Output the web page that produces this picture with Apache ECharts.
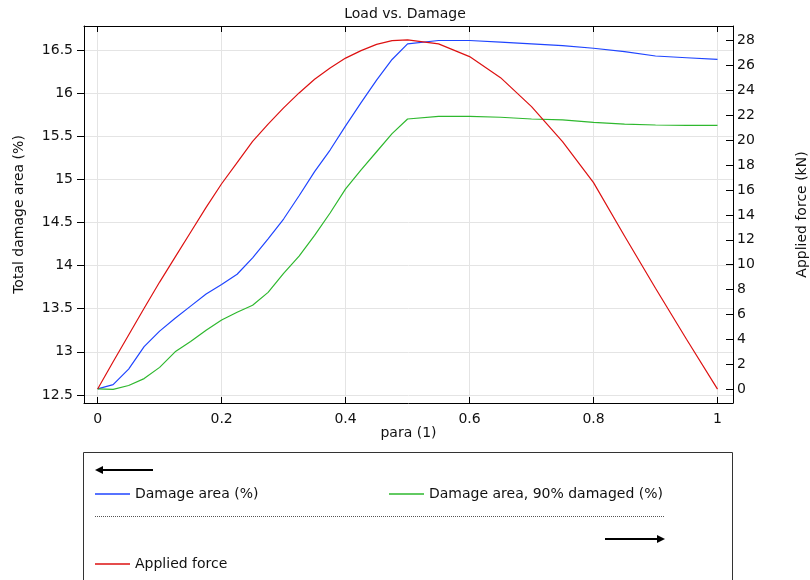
<!DOCTYPE html>
<html>
<head>
  <meta charset="utf-8">
  <script src="https://cdn.jsdelivr.net/npm/echarts@6/dist/echarts.min.js"></script>
  <style>
    body { margin: 0; background: #fff; }
    #chart { width: 810px; height: 580px; }
  </style>
</head>
<body>
  <div id="chart"></div>
  <script>
    // parameter sweep: 0.025 steps up to 0.5, then 0.05 steps
    var para = [0, 0.025, 0.05, 0.075, 0.1, 0.125, 0.15, 0.175, 0.2, 0.225, 0.25,
      0.275, 0.3, 0.325, 0.35, 0.375, 0.4, 0.425, 0.45, 0.475, 0.5,
      0.55, 0.6, 0.65, 0.7, 0.75, 0.8, 0.85, 0.9, 0.95, 1];
    var damageArea = [12.57, 12.62, 12.80, 13.06, 13.24, 13.39, 13.53, 13.67, 13.78, 13.90, 14.09,
      14.31, 14.54, 14.81, 15.09, 15.34, 15.62, 15.89, 16.15, 16.39, 16.57,
      16.61, 16.61, 16.59, 16.57, 16.55, 16.52, 16.48, 16.43, 16.41, 16.39];
    var damageArea90 = [12.57, 12.565, 12.61, 12.69, 12.82, 13.00, 13.12, 13.25, 13.37, 13.46, 13.54,
      13.69, 13.91, 14.11, 14.35, 14.61, 14.89, 15.11, 15.32, 15.53, 15.70,
      15.73, 15.73, 15.72, 15.70, 15.69, 15.66, 15.64, 15.63, 15.625, 15.625];
    var appliedForce = [0, 2.2, 4.35, 6.5, 8.6, 10.6, 12.6, 14.6, 16.5, 18.2, 19.9,
      21.3, 22.6, 23.8, 24.9, 25.8, 26.6, 27.2, 27.7, 28.0, 28.06,
      27.74, 26.72, 25.03, 22.7, 19.89, 16.59, 12.3, 8.1, 4.0, 0];

    // tick values
    var xTicks = [0, 0.2, 0.4, 0.6, 0.8, 1];
    var leftTicks = [12.5, 13, 13.5, 14, 14.5, 15, 15.5, 16, 16.5];
    var rightTicks = [0, 2, 4, 6, 8, 10, 12, 14, 16, 18, 20, 22, 24, 26, 28];

    var FONT = 'DejaVu Sans';
    var BLUE = '#1f45ff', GREEN = '#2eb82e', RED = '#dd1111';

    function pairs(ys) {
      return para.map(function (x, i) { return [x, ys[i]]; });
    }

    var chart = echarts.init(document.getElementById('chart'));
    var lbl = { fontFamily: FONT, fontSize: 14, color: '#111' };
    var axisLine = { show: true, onZero: false, lineStyle: { color: '#000', width: 1 } };
    var grey = { show: true, lineStyle: { color: '#e4e4e4' } };

    chart.setOption({
      animation: false,
      textStyle: { fontFamily: FONT },
      title: {
        text: 'Load vs. Damage',
        left: 'center',
        top: 2,
        textStyle: { fontFamily: FONT, fontSize: 14, fontWeight: 'normal', color: '#111' }
      },
      grid: { left: 84, right: 77, top: 26, bottom: 177, containLabel: false, outerBoundsMode: 'none' },
      xAxis: [{
        type: 'value',
        min: -0.022, max: 1.025, splitNumber: 5,
        name: 'para (1)', nameLocation: 'middle', nameGap: 23, nameMoveOverlap: false,
        nameTextStyle: lbl,
        axisLine: axisLine,
        axisTick: { inside: true, length: 6, customValues: xTicks, lineStyle: { color: '#000' } },
        axisLabel: Object.assign({ margin: 9, customValues: xTicks }, lbl),
        splitLine: grey
      }, {
        type: 'value', position: 'top',
        min: -0.022, max: 1.025, splitNumber: 5,
        axisLine: axisLine,
        axisTick: { inside: true, length: 6, customValues: xTicks, lineStyle: { color: '#000' } },
        axisLabel: { show: false },
        splitLine: { show: false }
      }],
      yAxis: [{
        type: 'value',
        min: 12.407, max: 16.778, splitNumber: 9,
        name: 'Total damage area (%)', nameLocation: 'middle', nameGap: 58, nameRotate: 90,
        nameMoveOverlap: false,
        nameTextStyle: lbl,
        axisLine: axisLine,
        axisTick: { show: true, inside: false, length: 7, customValues: leftTicks, lineStyle: { color: '#000' } },
        axisLabel: Object.assign({ margin: 11, customValues: leftTicks }, lbl),
        splitLine: grey
      }, {
        type: 'value', position: 'right',
        min: -1.12, max: 29.18, splitNumber: 15,
        name: 'Applied force (kN)', nameLocation: 'middle', nameGap: 62, nameRotate: 90,
        nameMoveOverlap: false,
        nameTextStyle: lbl,
        axisLine: axisLine,
        axisTick: { show: true, inside: true, length: 7, customValues: rightTicks, lineStyle: { color: '#000' } },
        axisLabel: Object.assign({ margin: 4, customValues: rightTicks }, lbl),
        splitLine: { show: false }
      }],
      legend: [{
        data: ['Damage area (%)'], left: 95, top: 487, padding: 0,
        icon: 'rect', itemWidth: 35, itemHeight: 1.5, textStyle: lbl
      }, {
        data: ['Damage area, 90% damaged (%)'], left: 389, top: 487, padding: 0,
        icon: 'rect', itemWidth: 35, itemHeight: 1.5, textStyle: lbl
      }, {
        data: ['Applied force'], left: 95, top: 557, padding: 0,
        icon: 'rect', itemWidth: 35, itemHeight: 1.5, textStyle: lbl
      }],
      graphic: [
        { type: 'rect', shape: { x: 83.5, y: 452.5, width: 649, height: 140 },
          style: { fill: 'none', stroke: '#333', lineWidth: 1 }, silent: true },
        // left arrow (left axis group)
        { type: 'line', shape: { x1: 101, y1: 470, x2: 153, y2: 470 },
          style: { stroke: '#000', lineWidth: 2 } },
        { type: 'polygon', shape: { points: [[95, 470], [103, 466], [103, 474]] },
          style: { fill: '#000' } },
        // dotted separator
        { type: 'line', shape: { x1: 95, y1: 516.5, x2: 665, y2: 516.5 },
          style: { stroke: '#555', lineWidth: 1, lineDash: [1, 1] } },
        // right arrow (right axis group)
        { type: 'line', shape: { x1: 605, y1: 539, x2: 659, y2: 539 },
          style: { stroke: '#000', lineWidth: 2 } },
        { type: 'polygon', shape: { points: [[665, 539], [657, 535], [657, 543]] },
          style: { fill: '#000' } }
      ],
      series: [{
        name: 'Damage area (%)', type: 'line', xAxisIndex: 0, yAxisIndex: 0,
        data: pairs(damageArea), showSymbol: false, symbol: 'none',
        lineStyle: { color: BLUE, width: 1.2 }, itemStyle: { color: BLUE }
      }, {
        name: 'Damage area, 90% damaged (%)', type: 'line', xAxisIndex: 0, yAxisIndex: 0,
        data: pairs(damageArea90), showSymbol: false, symbol: 'none',
        lineStyle: { color: GREEN, width: 1.2 }, itemStyle: { color: GREEN }
      }, {
        name: 'Applied force', type: 'line', xAxisIndex: 0, yAxisIndex: 1,
        data: pairs(appliedForce), showSymbol: false, symbol: 'none',
        lineStyle: { color: RED, width: 1.2 }, itemStyle: { color: RED }
      }]
    });
  </script>
</body>
</html>
